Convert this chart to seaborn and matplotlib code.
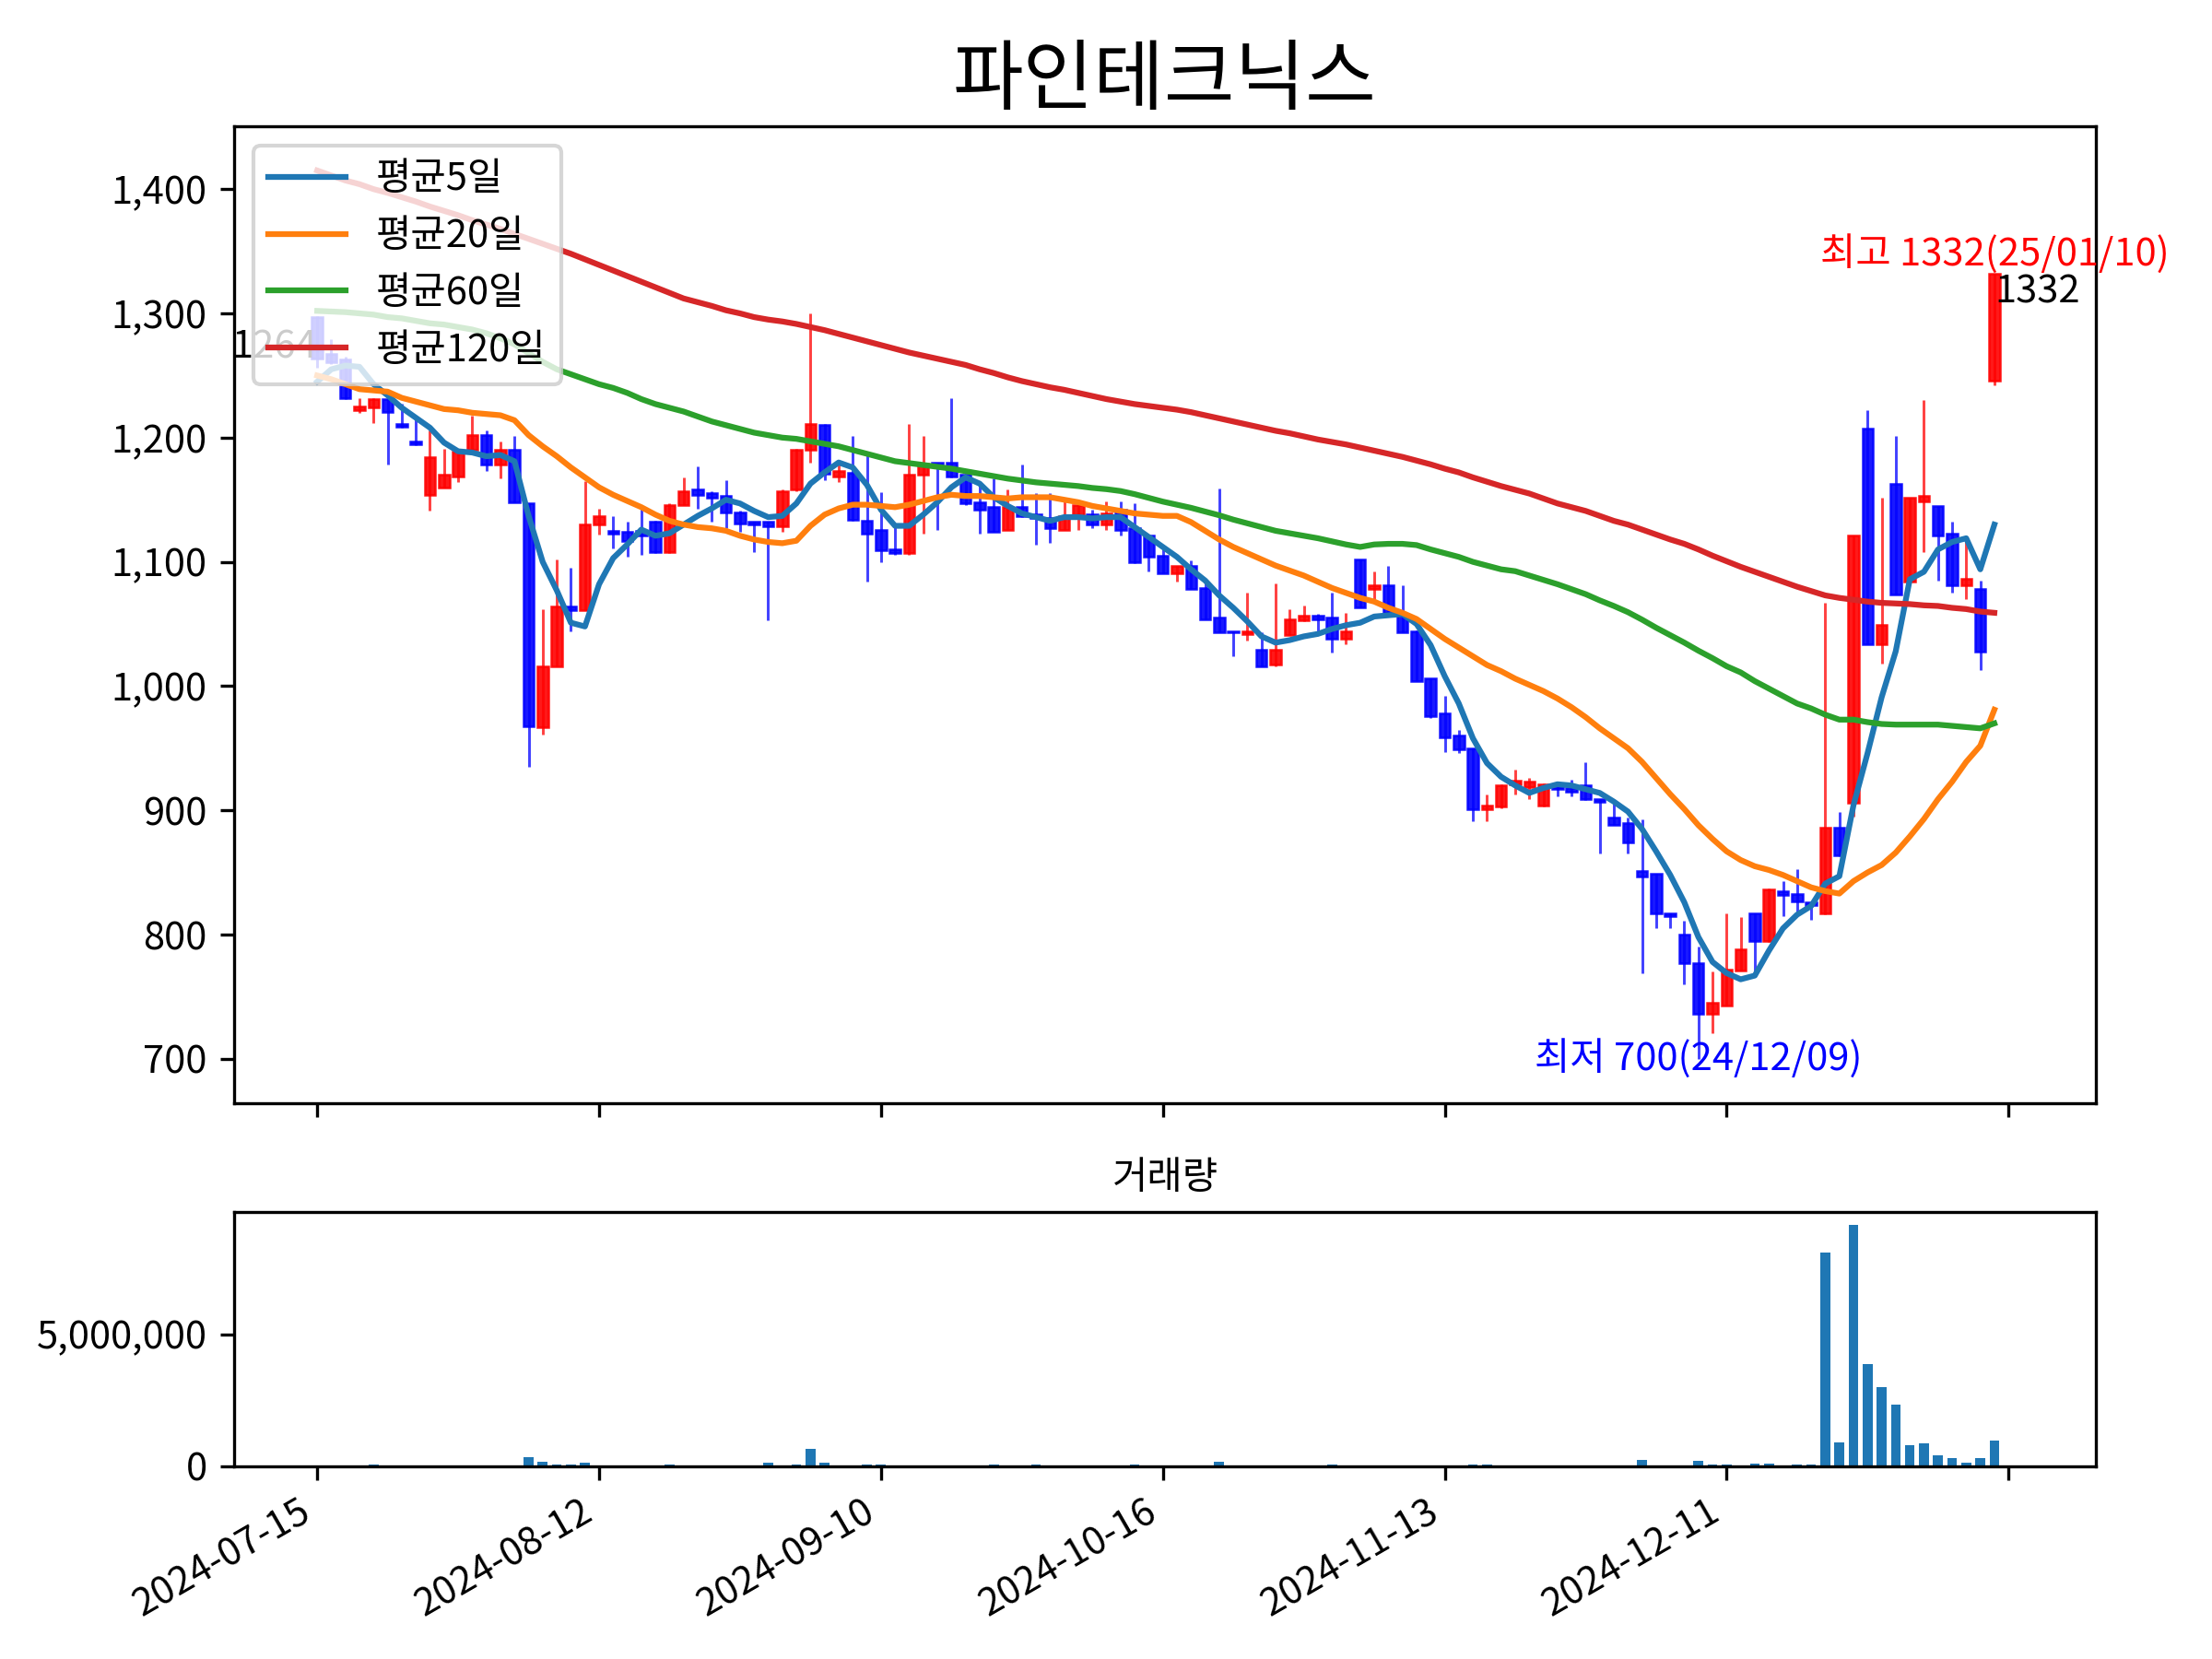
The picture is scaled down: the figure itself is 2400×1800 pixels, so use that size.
import numpy as np
import pandas as pd
import seaborn as sns
import matplotlib
matplotlib.use('Agg')
import matplotlib.pyplot as plt
from matplotlib.ticker import FuncFormatter, MultipleLocator

plt.rcParams['font.family'] = ['Noto Sans CJK KR', 'DejaVu Sans']
plt.rcParams['axes.unicode_minus'] = False

name = '파인테크닉스'

# 거래일 (주말, 휴장일 제외)
holidays = ['2024-08-15', '2024-09-16', '2024-09-17', '2024-09-18', '2024-10-01',
            '2024-10-03', '2024-10-09', '2024-12-25', '2024-12-31', '2025-01-01']
dates = pd.bdate_range('2024-07-15', '2025-01-10', freq='C', holidays=holidays)

opens = [1297, 1267, 1263, 1222, 1224, 1231, 1211, 1197, 1154, 1160,
         1169, 1190, 1202, 1178, 1190, 1147, 967, 1016, 1064, 1061,
         1130, 1125, 1124, 1125, 1132, 1108, 1146, 1158, 1155, 1153,
         1140, 1132, 1132, 1129, 1158, 1190, 1210, 1169, 1172, 1133,
         1126, 1110, 1107, 1170, 1180, 1180, 1170, 1148, 1144, 1126,
         1144, 1138, 1135, 1126, 1136, 1138, 1130, 1142, 1127, 1121,
         1105, 1091, 1097, 1079, 1055, 1044, 1042, 1029, 1017, 1041,
         1053, 1057, 1055, 1038, 1102, 1078, 1081, 1058, 1044, 1006,
         978, 960, 950, 901, 903, 921, 919, 904, 919, 918,
         920, 909, 894, 890, 851, 849, 817, 800, 777, 736,
         743, 771, 817, 795, 835, 833, 826, 817, 886, 906,
         1207, 1034, 1163, 1084, 1149, 1145, 1123, 1081, 1078, 1246]
highs = [1298, 1279, 1265, 1232, 1232, 1232, 1227, 1215, 1206, 1191,
         1190, 1218, 1206, 1197, 1201, 1147, 1062, 1102, 1095, 1165,
         1143, 1137, 1132, 1146, 1133, 1147, 1168, 1177, 1157, 1166,
         1141, 1132, 1132, 1158, 1191, 1300, 1211, 1178, 1201, 1187,
         1156, 1128, 1211, 1201, 1180, 1232, 1171, 1161, 1167, 1158,
         1178, 1155, 1155, 1149, 1147, 1142, 1149, 1149, 1147, 1121,
         1111, 1097, 1101, 1085, 1159, 1044, 1075, 1043, 1083, 1062,
         1065, 1058, 1075, 1059, 1102, 1092, 1097, 1081, 1045, 1006,
         992, 965, 950, 913, 921, 933, 926, 922, 922, 925,
         939, 909, 905, 894, 893, 849, 817, 811, 790, 770,
         817, 814, 817, 837, 843, 853, 826, 1067, 899, 1121,
         1222, 1152, 1201, 1152, 1230, 1145, 1132, 1116, 1085, 1332]
lows = [1256, 1259, 1231, 1220, 1212, 1178, 1208, 1194, 1141, 1160,
        1164, 1190, 1173, 1167, 1148, 935, 961, 1016, 1044, 1061,
        1122, 1111, 1104, 1106, 1107, 1107, 1146, 1143, 1132, 1127,
        1124, 1108, 1053, 1124, 1157, 1180, 1166, 1164, 1133, 1084,
        1100, 1106, 1106, 1123, 1126, 1168, 1146, 1123, 1124, 1126,
        1136, 1114, 1115, 1126, 1126, 1127, 1126, 1121, 1099, 1092,
        1091, 1084, 1078, 1054, 1043, 1024, 1037, 1016, 1016, 1041,
        1052, 1044, 1027, 1034, 1063, 1070, 1059, 1043, 1004, 974,
        947, 946, 891, 891, 902, 913, 909, 903, 911, 911,
        908, 865, 888, 865, 769, 805, 805, 760, 700, 721,
        743, 771, 767, 794, 815, 817, 812, 816, 863, 895,
        1034, 1018, 1074, 1083, 1108, 1085, 1075, 1070, 1013, 1242]
closes = [1264, 1261, 1232, 1225, 1231, 1221, 1209, 1195, 1184, 1170,
          1189, 1202, 1178, 1190, 1148, 968, 1016, 1064, 1061, 1130,
          1137, 1123, 1117, 1121, 1108, 1146, 1157, 1154, 1152, 1140,
          1131, 1130, 1129, 1157, 1190, 1211, 1171, 1173, 1134, 1123,
          1109, 1107, 1170, 1179, 1177, 1169, 1147, 1142, 1124, 1144,
          1137, 1135, 1127, 1137, 1146, 1130, 1139, 1126, 1100, 1104,
          1091, 1097, 1078, 1054, 1043, 1043, 1044, 1016, 1029, 1054,
          1057, 1054, 1038, 1044, 1063, 1081, 1059, 1043, 1004, 976,
          959, 949, 901, 904, 920, 924, 923, 921, 917, 915,
          909, 907, 888, 874, 847, 817, 815, 777, 736, 745,
          772, 788, 795, 836, 832, 827, 824, 886, 864, 1121,
          1034, 1049, 1074, 1152, 1153, 1121, 1081, 1086, 1028, 1332]

ma5 = [1245, 1255, 1258, 1257, 1243, 1234, 1224, 1216, 1208, 1196,
       1189, 1188, 1185, 1186, 1181, 1137, 1100, 1077, 1051, 1048,
       1082, 1103, 1114, 1126, 1121, 1123, 1130, 1137, 1143, 1150,
       1147, 1141, 1136, 1137, 1147, 1163, 1172, 1180, 1176, 1162,
       1142, 1129, 1129, 1138, 1148, 1160, 1168, 1163, 1152, 1145,
       1139, 1136, 1133, 1136, 1136, 1135, 1136, 1136, 1128, 1120,
       1112, 1104, 1094, 1085, 1073, 1063, 1052, 1040, 1035, 1037,
       1040, 1042, 1046, 1049, 1051, 1056, 1057, 1058, 1050, 1033,
       1008, 986, 958, 938, 927, 920, 914, 918, 921, 920,
       917, 914, 907, 899, 885, 867, 848, 826, 798, 778,
       769, 764, 767, 787, 805, 816, 823, 841, 847, 904,
       946, 991, 1028, 1086, 1092, 1110, 1116, 1119, 1094, 1130]
ma20 = [1250, 1247, 1243, 1239, 1238, 1237, 1232, 1229, 1226, 1223,
        1222, 1220, 1219, 1218, 1214, 1202, 1193, 1185, 1176, 1168,
        1160, 1154, 1149, 1144, 1138, 1133, 1130, 1128, 1127, 1125,
        1121, 1118, 1116, 1115, 1117, 1129, 1138, 1143, 1146, 1146,
        1145, 1144, 1146, 1149, 1152, 1154, 1153, 1153, 1152, 1151,
        1152, 1152, 1152, 1150, 1148, 1145, 1143, 1141, 1139, 1138,
        1137, 1137, 1132, 1125, 1118, 1112, 1107, 1102, 1097, 1093,
        1089, 1084, 1079, 1075, 1071, 1068, 1063, 1059, 1054, 1046,
        1038, 1031, 1024, 1017, 1012, 1006, 1001, 996, 990, 983,
        975, 966, 958, 950, 939, 926, 913, 901, 888, 877,
        867, 860, 855, 852, 848, 843, 838, 835, 833, 843,
        850, 856, 866, 879, 893, 909, 923, 939, 952, 981]
ma60 = [1302, 1301.5, 1301, 1300, 1299, 1297, 1296, 1294, 1292, 1291,
        1289, 1287, 1284, 1280, 1275, 1268, 1261, 1255, 1251, 1247,
        1243, 1240, 1236, 1231, 1227, 1224, 1221, 1217, 1213, 1210,
        1207, 1204, 1202, 1200, 1199, 1197, 1195, 1193, 1190, 1187,
        1184, 1181, 1179.5, 1178, 1176.5, 1175, 1173, 1171, 1169, 1167,
        1165.5, 1164, 1163, 1162, 1161, 1159.5, 1158.5, 1157, 1154.5, 1151.5,
        1148.5, 1146, 1143.5, 1140.5, 1137.5, 1134, 1131, 1128, 1125, 1123,
        1121, 1119, 1116.5, 1114, 1112, 1114, 1114.5, 1114.5, 1113.5, 1110,
        1107, 1104, 1100, 1097, 1094, 1092.5, 1089, 1085.5, 1082, 1078,
        1074, 1069, 1064.5, 1059.5, 1053.5, 1047, 1041, 1035, 1028.5, 1022.5,
        1016, 1011, 1004, 998, 992, 986, 982, 977, 973, 973,
        971, 969.5, 969, 969, 969, 969, 968, 967, 966, 970]
ma120 = [1415, 1411, 1407, 1404, 1400, 1397, 1393.5, 1390, 1386, 1382.5,
         1379, 1375, 1371.5, 1368, 1364, 1360, 1356, 1352, 1348, 1343.5,
         1339, 1334.5, 1330, 1325.5, 1321, 1316.5, 1312, 1309, 1306, 1302.5,
         1300, 1297, 1295, 1293.5, 1291.5, 1289, 1286.5, 1283.5, 1280.5, 1277.5,
         1274.5, 1271.5, 1268.5, 1266, 1263.5, 1261, 1258.5, 1255, 1252, 1248.5,
         1245.5, 1243, 1240.5, 1238.5, 1236, 1233.5, 1231, 1229, 1227, 1225.5,
         1224, 1222.5, 1220.5, 1218, 1215.5, 1213, 1210.5, 1208, 1205.5, 1203.5,
         1201, 1198.5, 1196.5, 1194.5, 1192, 1189.5, 1187, 1184.5, 1181.5, 1178.5,
         1175, 1172, 1168, 1164.5, 1161, 1158, 1155, 1151, 1147, 1144,
         1141, 1137, 1133, 1130, 1126, 1122, 1118, 1114.5, 1110, 1105,
         1100.5, 1096, 1092, 1088, 1084, 1080, 1076.5, 1073, 1071, 1069.5,
         1068, 1067, 1066.5, 1066, 1065, 1064.5, 1063, 1062, 1060, 1059]

volumes = [15000, 15000, 15000, 15000, 50000, 15000, 15000, 15000, 15000, 15000,
           15000, 15000, 15000, 15000, 15000, 360000, 160000, 70000, 70000, 120000,
           15000, 15000, 15000, 15000, 15000, 70000, 15000, 15000, 15000, 15000,
           15000, 15000, 120000, 15000, 70000, 650000, 120000, 15000, 15000, 60000,
           60000, 15000, 15000, 15000, 15000, 15000, 15000, 15000, 50000, 15000,
           15000, 50000, 15000, 15000, 15000, 15000, 15000, 15000, 50000, 15000,
           15000, 15000, 15000, 15000, 160000, 15000, 15000, 15000, 15000, 15000,
           15000, 15000, 50000, 15000, 15000, 15000, 15000, 15000, 15000, 15000,
           15000, 15000, 50000, 50000, 15000, 15000, 15000, 15000, 15000, 15000,
           15000, 15000, 15000, 15000, 230000, 15000, 15000, 15000, 200000, 60000,
           60000, 15000, 90000, 90000, 15000, 60000, 60000, 8100000, 910000, 9150000,
           3870000, 3000000, 2330000, 790000, 870000, 410000, 300000, 130000, 300000, 970000]

df = pd.DataFrame({'date': dates, 'open': opens, 'high': highs, 'low': lows,
                   'close': closes, 'volume': volumes,
                   'ma5': ma5, 'ma20': ma20, 'ma60': ma60, 'ma120': ma120})
df['idx'] = np.arange(len(df))

fig = plt.figure(figsize=(8, 6), dpi=300)
ax = fig.add_axes([0.1058, 0.335, 0.8417, 0.589])
ax_v = fig.add_axes([0.1058, 0.1162, 0.8417, 0.153], sharex=ax)

# 캔들: 상승 빨강, 하락 파랑
colors = np.where(df['close'] >= df['open'], 'red', 'blue')
ax.vlines(df['idx'], df['low'], df['high'], colors=colors, lw=0.7, alpha=0.75)
body_bottom = np.minimum(df['open'], df['close'])
body_h = (df['close'] - df['open']).abs().clip(lower=1)
ax.bar(df['idx'], body_h, bottom=body_bottom, width=0.75, color=colors,
       edgecolor=colors, linewidth=0.6, alpha=0.9)

# 이동평균선
for col, lab, c in [('ma5', '평균5일', 'C0'), ('ma20', '평균20일', 'C1'),
                    ('ma60', '평균60일', 'C2'), ('ma120', '평균120일', 'C3')]:
    sns.lineplot(data=df, x='idx', y=col, ax=ax, color=c, label=lab, lw=1.5)
ax.legend(loc='upper left')
ax.set_xlabel('')
ax.set_ylabel('')
ax.set_title(name, fontsize=20)

# 시작가/최고/최저 표시
last = len(df) - 1
ax.text(0, closes[0], f'{closes[0]}', ha='right', va='baseline', fontsize=10)
ax.text(last, closes[last], f'{closes[last]}', ha='left', va='top', fontsize=10)
hi = int(np.argmax(highs))
lo = int(np.argmin(lows))
ax.text(hi, highs[hi], f"최고 {highs[hi]}({dates[hi]:%y/%m/%d})", color='red',
        ha='center', va='bottom', fontsize=10)
ax.text(lo, lows[lo], f"최저 {lows[lo]}({dates[lo]:%y/%m/%d})", color='blue',
        ha='center', va='center', fontsize=10)

# 거래량
sns.barplot(data=df, x='idx', y='volume', ax=ax_v, native_scale=True, color='C0',
            saturation=1, width=0.7, errorbar=None)
ax_v.set_xlabel('')
ax_v.set_ylabel('')
ax_v.set_title('거래량', fontsize=10)

comma = FuncFormatter(lambda v, p: f'{v:,.0f}')
ax.yaxis.set_major_formatter(comma)
ax_v.yaxis.set_major_formatter(comma)


def date_fmt(x, p):
    i = int(round(x))
    if 0 <= i < len(dates):
        return dates[i].strftime('%Y-%m-%d')
    return ''


ax.set_xlim(-5.9, 126.2)
ax_v.xaxis.set_major_locator(MultipleLocator(20))
ax_v.xaxis.set_major_formatter(FuncFormatter(date_fmt))
ax.tick_params(labelbottom=False)
for t in ax_v.get_xticklabels():
    t.set_rotation(30)
    t.set_ha('right')

fig.savefig('out.png', dpi=300)
